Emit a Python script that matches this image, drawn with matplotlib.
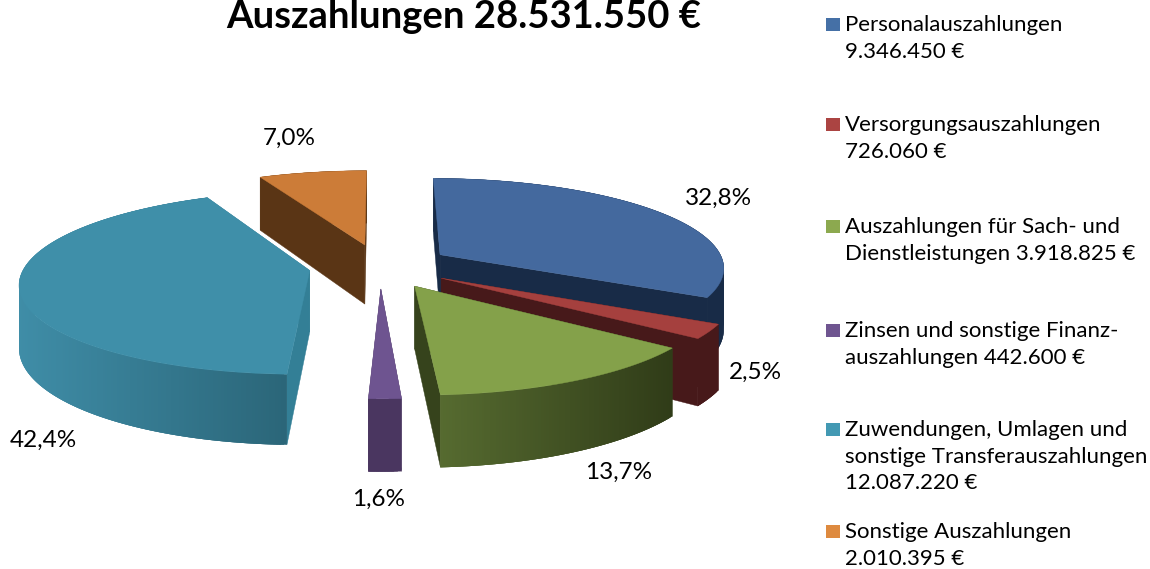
import matplotlib
matplotlib.use("Agg")
import matplotlib.pyplot as plt
import numpy as np
from matplotlib.patches import Polygon, Rectangle

plt.rcParams['font.family'] = ['Lato', 'DejaVu Sans']

# euro amounts per position
names = ["Personalauszahlungen\n9.346.450 €",
         "Versorgungsauszahlungen\n726.060 €",
         "Auszahlungen für Sach- und\nDienstleistungen 3.918.825 €",
         "Zinsen und sonstige Finanz-\nauszahlungen 442.600 €",
         "Zuwendungen, Umlagen und\nsonstige Transferauszahlungen\n12.087.220 €",
         "Sonstige Auszahlungen\n2.010.395 €"]
values = [9346450, 726060, 3918825, 442600, 12087220, 2010395]
title = "Auszahlungen 28.531.550 €"

# colours
top_colors = ["#44699E", "#A5403E", "#84A14A", "#6E5490", "#3F8FA9", "#CC7C38"]
face_colors = ["#182B47", "#47191A", "#36431C", "#4A3660", "#337F96", "#5A3515"]
rim_left = ["#182B47", "#47191A", "#566B30", "#4A3660", "#3F8DA7", "#5A3515"]
rim_right = ["#182B47", "#47191A", "#303C18", "#4A3660", "#2B6679", "#5A3515"]
legend_colors = ["#4570A6", "#AB4442", "#8CA94F", "#6F5590", "#4399B3", "#DE8A3F"]

legend_y = [25, 125, 227, 331, 430, 532]
label_xy = [(719, 198), (755, 372), (619, 472), (379, 499), (43, 440), (289, 138)]

cx, cy = 380, 266      # pie centre in px
R, Ry = 285, 89        # radius across / squashed radius
k = 0.13               # perspective
explode = 0.25
h = 61                 # thickness


def project(u, v, drop=0.0):
    s = 1 / (1 + k * v)
    return cx + R * u * s, cy - Ry * v * s + drop * s


def slice_polys(a0, a1):
    mid = np.radians((a0 + a1) / 2)
    eu, ev = explode * np.sin(mid), explode * np.cos(mid)
    ang = np.radians(np.linspace(a0, a1, max(int(a1 - a0) * 2, 6)))
    us = eu + np.sin(ang)
    vs = ev + np.cos(ang)
    return eu, ev, us, vs, ang


fig = plt.figure(figsize=(11.5, 5.69), dpi=100)
ax = fig.add_axes([0, 0, 1, 1])
ax.set_xlim(0, 1150)
ax.set_ylim(569, 0)
ax.axis("off")

total = sum(values)
sweep = np.array(values) / total * 360
starts = np.concatenate([[0], np.cumsum(sweep)[:-1]])

# back slices first so the front ones paint over them
order = [5, 0, 4, 1, 3, 2]
for n, i in enumerate(order):
    a0, a1 = starts[i], starts[i] + sweep[i]
    eu, ev, us, vs, ang = slice_polys(a0, a1)
    z = 2 + n * 3

    # flat cut faces
    for j in [0, -1]:
        pts = [project(eu, ev), project(us[j], vs[j]),
               project(us[j], vs[j], h), project(eu, ev, h)]
        ax.add_patch(Polygon(pts, closed=True, fc=face_colors[i], ec=face_colors[i], lw=0.3, zorder=z))

    # outer rim, strip by strip, shaded left to right
    # each strip runs on under the next one so no seams show
    c0 = np.array(matplotlib.colors.to_rgb(rim_left[i]))
    c1 = np.array(matplotlib.colors.to_rgb(rim_right[i]))
    xs = [project(a, b)[0] for a, b in zip(us, vs)]
    xmin, xmax = min(xs), max(xs)
    for j in range(len(us) - 1):
        t = (xs[j] - xmin) / max(xmax - xmin, 1)
        col = c0 + (c1 - c0) * t
        e = min(j + 3, len(us) - 1)
        pts = [project(us[j], vs[j]), project(us[e], vs[e]),
               project(us[e], vs[e], h), project(us[j], vs[j], h)]
        ax.add_patch(Polygon(pts, closed=True, fc=col, ec="none", zorder=z + 1))

    # top
    pts = [project(eu, ev)] + [project(a, b) for a, b in zip(us, vs)]
    ax.add_patch(Polygon(pts, closed=True, fc=top_colors[i], ec=top_colors[i], lw=0.3, zorder=z + 2))

# percent labels
for v, (x, y) in zip(values, label_xy):
    txt = f"{v / total * 100:.1f}%".replace(".", ",")
    ax.text(x, y, txt, fontsize=17.5, color="black", ha="center", va="center", zorder=50)

ax.text(464, 17, title, fontsize=27.5, fontweight="bold", color="black", ha="center", va="center", zorder=50)

# legend
for name, col, y in zip(names, legend_colors, legend_y):
    ax.add_patch(Rectangle((826, y - 7), 14, 13, fc=col, ec="none", zorder=50))
    ax.text(845, y - 10, name, fontsize=16, color="black", ha="left", va="top",
            linespacing=1.41, zorder=50)

fig.savefig("out.png", dpi=100)
